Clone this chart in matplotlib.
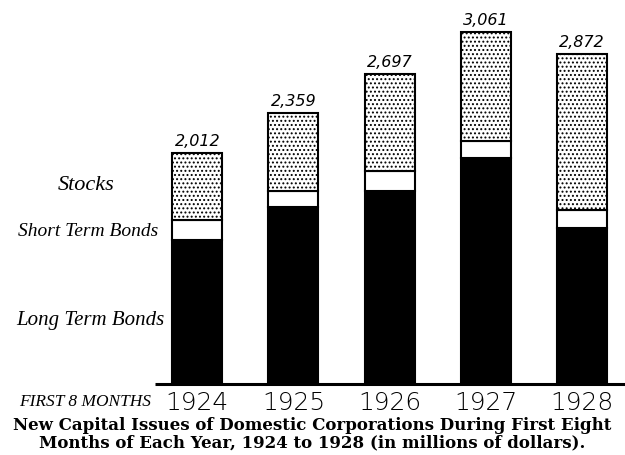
"""
New capital issues of domestic corporations, first eight months, 1924-1928.
Stacked bars: long term bonds (solid), short term bonds (white), stocks (stippled).
"""

import matplotlib
matplotlib.use("Agg")
import matplotlib.pyplot as plt

# ── Data (millions of dollars) ────────────────────────────────────────────────

years = ["1924", "1925", "1926", "1927", "1928"]
long_term_bonds = [1255, 1535, 1675, 1968, 1358]
short_term_bonds = [170, 140, 180, 148, 155]
stocks = [587, 684, 842, 945, 1359]
totals = [2012, 2359, 2697, 3061, 2872]
total_labels = ["2,012", "2,359", "2,697", "3,061", "2,872"]

# ── Figure ────────────────────────────────────────────────────────────────────

plt.rcParams["hatch.linewidth"] = 0.9

W, H = 625, 455
fig = plt.figure(figsize=(W / 100, H / 100), dpi=100)
fig.patch.set_facecolor("white")

# axes spans x 155..625 px, y baseline 384 px from top to the top edge
ax = fig.add_axes([155 / W, (H - 384) / H, 470 / W, 384 / H])
ax.set_xlim(-0.44, 4.45)
ax.set_ylim(0, 3339)
ax.axis("off")

xs = list(range(len(years)))
bw = 0.52
bottom_short = long_term_bonds
bottom_stocks = [a + b for a, b in zip(long_term_bonds, short_term_bonds)]

ax.bar(xs, long_term_bonds, width=bw, color="black", edgecolor="black",
       linewidth=1.5)
ax.bar(xs, short_term_bonds, width=bw, bottom=bottom_short, color="white",
       edgecolor="black", linewidth=1.5)
ax.bar(xs, stocks, width=bw, bottom=bottom_stocks, color="white",
       edgecolor="black", linewidth=1.5, hatch="....")

for x, t, lbl in zip(xs, totals, total_labels):
    ax.text(x, t + 35, lbl, ha="center", va="bottom", fontsize=11.5,
            style="italic", family="DejaVu Sans")

# baseline
ax.plot([-0.44, 4.45], [0, 0], color="black", lw=2.2, clip_on=False,
        solid_capstyle="butt")

# year labels under the bars
for x, yr in zip(xs, years):
    ax.text(x, -60, yr, ha="center", va="top", fontsize=18,
            family="DejaVu Sans", fontweight="light")

# ── Side labels ───────────────────────────────────────────────────────────────

script = dict(family="Liberation Serif", style="italic", color="black")
fig.text(86 / W, 1 - 185 / H, "Stocks", ha="center", va="center",
         fontsize=16, **script)
fig.text(88 / W, 1 - 232 / H, "Short Term Bonds", ha="center", va="center",
         fontsize=14, **script)
fig.text(90 / W, 1 - 320 / H, "Long Term Bonds", ha="center", va="center",
         fontsize=15, **script)
fig.text(85 / W, 1 - 402 / H, "FIRST 8 MONTHS", ha="center", va="center",
         fontsize=12.5, family="Liberation Serif", style="italic")

# ── Caption ───────────────────────────────────────────────────────────────────

fig.text(0.5, 1 - 425 / H,
         "New Capital Issues of Domestic Corporations During First Eight",
         ha="center", va="center", fontsize=12, fontweight="bold",
         family="DejaVu Serif")
fig.text(0.5, 1 - 443 / H,
         "Months of Each Year, 1924 to 1928 (in millions of dollars).",
         ha="center", va="center", fontsize=12, fontweight="bold",
         family="DejaVu Serif")

fig.savefig("out.png", dpi=100, facecolor="white")
